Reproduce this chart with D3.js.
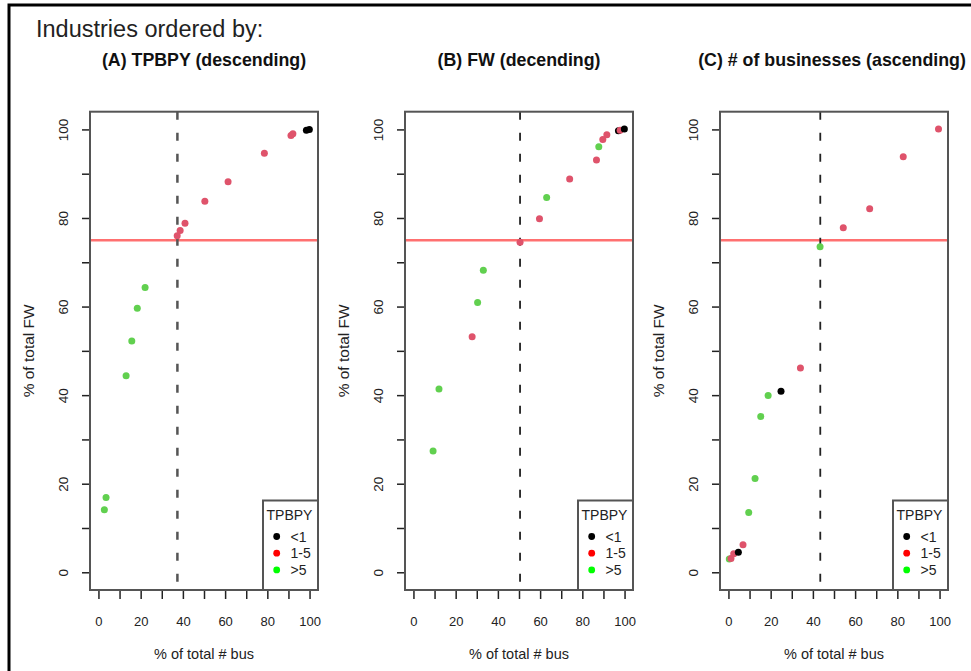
<!DOCTYPE html>
<html>
<head>
<meta charset="utf-8">
<script src="https://cdn.jsdelivr.net/npm/d3@7"></script>
<style>
  body { margin: 0; background: #fff; }
  svg { display: block; font-family: "Liberation Sans", Arial, sans-serif; }
</style>
</head>
<body>
<script>
/* global d3 */

// Cumulative % of total # businesses (x) and % of total FW (y), one point per industry,
// listed in plotting order. Group is the TPBPY class.
const xA = [2.8, 3.6, 13.1, 15.8, 18.4, 22.1, 37.3, 38.7, 41.0, 50.4, 61.4, 78.6, 91.2, 92.1, 98.5, 99.9];
const yA = [14.1, 16.9, 44.4, 52.2, 59.6, 64.3, 76.0, 77.2, 78.8, 83.8, 88.2, 94.6, 98.6, 99.0, 99.8, 100];
const gA = ['>5', '>5', '>5', '>5', '>5', '>5', '1-5', '1-5', '1-5', '1-5', '1-5', '1-5', '1-5', '1-5', '<1', '<1'];

const xB = [9.3, 12.1, 27.8, 30.4, 33.1, 50.5, 59.7, 63.1, 74.0, 86.7, 87.8, 89.7, 91.6, 97.1, 97.9, 99.9];
const yB = [27.4, 41.4, 53.2, 60.9, 68.2, 74.5, 79.8, 84.6, 88.8, 93.1, 96.1, 97.7, 98.8, 99.7, 99.8, 100.1];
const gB = ['>5', '>5', '1-5', '>5', '>5', '1-5', '1-5', '>5', '1-5', '1-5', '>5', '1-5', '1-5', '<1', '1-5', '<1'];

const xC = [0.4, 1.2, 2.5, 4.7, 6.9, 9.6, 12.6, 15.3, 18.8, 24.9, 34.1, 43.4, 54.4, 66.9, 82.8, 99.5];
const yC = [3.0, 3.1, 4.2, 4.5, 6.2, 13.5, 21.2, 35.2, 39.9, 40.9, 46.1, 73.5, 77.8, 82.1, 93.8, 100.1];
const gC = ['>5', '1-5', '1-5', '<1', '1-5', '>5', '>5', '>5', '>5', '<1', '1-5', '>5', '1-5', '1-5', '1-5', '1-5'];

const titles = ['(A) TPBPY (descending)', '(B) FW (decending)', '(C) # of businesses (ascending)'];
const cutoffs = [37.4, 50.5, 43.5];   // dashed vertical line, % of total # bus
const fwLine = 75;                     // horizontal line, % of total FW

const groups = ['<1', '1-5', '>5'];
const pointColors = ['#000000', '#DF536B', '#61D04F'];
const legendColors = ['#000000', '#FF0000', '#00FF00'];

const xTicks = d3.range(0, 101, 10);
const yTicks = d3.range(0, 101, 10);

const width = 971;
const height = 671;

const panels = [
  { x: xA, y: yA, g: gA },
  { x: xB, y: yB, g: gB },
  { x: xC, y: yC, g: gC },
];

const svg = d3.select('body').append('svg')
  .attr('width', width)
  .attr('height', height);

// outer frame of the original figure (only its top and left edges are in view)
svg.append('rect')
  .attr('x', 9).attr('y', 5)
  .attr('width', 1000).attr('height', 700)
  .attr('fill', 'none')
  .attr('stroke', '#000')
  .attr('stroke-width', 3);

svg.append('text')
  .attr('x', 36).attr('y', 37)
  .attr('font-size', 23.5)
  .attr('fill', '#222')
  .text('Industries ordered by:');

const box = { left: 90, top: 111.7, w: 228, h: 478.3, step: 315 };
const color = d3.scaleOrdinal().domain(groups).range(pointColors);

panels.forEach((p, i) => {
  const g = svg.append('g')
    .attr('transform', `translate(${box.left + i * box.step},${box.top})`);

  // R pads the 0-100 data range by 4% on each side
  const x = d3.scaleLinear().domain([-4, 104]).range([0, box.w]);
  const y = d3.scaleLinear().domain([-4, 104]).range([box.h, 0]);

  g.append('text')
    .attr('x', box.w / 2 + (i === 2 ? -2 : 0)).attr('y', 66 - box.top)
    .attr('text-anchor', 'middle')
    .attr('font-size', 17.8)
    .attr('font-weight', 'bold')
    .attr('fill', '#111')
    .text(titles[i]);

  // y axis: ticks every 10, labels every 20
  const yAxis = d3.axisLeft(y)
    .tickValues(yTicks)
    .tickSize(8)
    .tickFormat(d => (d % 20 === 0 ? d : ''));
  g.append('g')
    .call(yAxis)
    .call(s => s.select('.domain').remove())
    .call(s => s.selectAll('.tick line').attr('stroke', '#222').attr('stroke-width', 1.5))
    .call(s => s.selectAll('.tick text')
      .attr('font-size', 13.5)
      .attr('font-family', '"Liberation Sans", Arial, sans-serif')
      .attr('fill', '#222')
      .attr('x', null).attr('dy', null)
      .attr('text-anchor', 'middle')
      .attr('transform', 'translate(-22.5,0) rotate(-90)'));

  // x axis below the box
  const xAxis = d3.axisBottom(x)
    .tickValues(xTicks)
    .tickSize(9)
    .tickPadding(18)
    .tickFormat(d => (d % 20 === 0 ? d : ''));
  g.append('g')
    .attr('transform', `translate(0,${box.h})`)
    .call(xAxis)
    .call(s => s.select('.domain').remove())
    .call(s => s.selectAll('.tick line').attr('stroke', '#222').attr('stroke-width', 1.5))
    .call(s => s.selectAll('.tick text')
      .attr('font-size', 13)
      .attr('font-family', '"Liberation Sans", Arial, sans-serif')
      .attr('fill', '#222'));

  g.append('line')
    .attr('x1', x(0)).attr('x2', x(100))
    .attr('y1', box.h).attr('y2', box.h)
    .attr('stroke', '#222').attr('stroke-width', 1);

  g.append('text')
    .attr('x', box.w / 2).attr('y', 659 - box.top)
    .attr('text-anchor', 'middle')
    .attr('font-size', 14.5)
    .attr('fill', '#222')
    .text('% of total # bus');

  g.append('text')
    .attr('transform', `translate(-56.5,${box.h / 2}) rotate(-90)`)
    .attr('text-anchor', 'middle')
    .attr('font-size', 15.5)
    .attr('fill', '#222')
    .text('% of total FW');

  // reference lines
  g.append('line')
    .attr('x1', 0).attr('x2', box.w)
    .attr('y1', y(fwLine)).attr('y2', y(fwLine))
    .attr('stroke', '#FF7070')
    .attr('stroke-width', 2.5);

  g.append('line')
    .attr('x1', x(cutoffs[i])).attr('x2', x(cutoffs[i]))
    .attr('y1', 0).attr('y2', box.h)
    .attr('stroke', i === 0 ? '#555' : '#222')
    .attr('stroke-width', i === 0 ? 2.5 : 1.8)
    .attr('stroke-dasharray', '8,13');

  // points
  g.append('g')
    .selectAll('circle')
    .data(p.x.map((v, k) => ({ x: v, y: p.y[k], g: p.g[k] })))
    .join('circle')
      .attr('cx', d => x(d.x))
      .attr('cy', d => y(d.y))
      .attr('r', 3.5)
      .attr('fill', d => color(d.g));

  // legend in the lower right corner
  const lw = 55;
  const lh = 89.5;
  const legend = g.append('g')
    .attr('transform', `translate(${box.w - lw},${box.h - lh})`);
  legend.append('rect')
    .attr('width', lw).attr('height', lh)
    .attr('fill', '#fff')
    .attr('stroke', '#555')
    .attr('stroke-width', 2);
  legend.append('text')
    .attr('x', 3.5).attr('y', 19.5)
    .attr('font-size', 14)
    .attr('fill', '#222')
    .text('TPBPY');
  const item = legend.selectAll('g.item')
    .data(groups)
    .join('g')
      .attr('class', 'item')
      .attr('transform', (d, k) => `translate(0,${36 + k * 16.7})`);
  item.append('circle')
    .attr('cx', 13.7)
    .attr('r', 3.4)
    .attr('fill', (d, k) => legendColors[k]);
  item.append('text')
    .attr('x', 27.5).attr('y', 5)
    .attr('font-size', 14)
    .attr('fill', '#222')
    .text(d => d);

  // plot box
  g.append('rect')
    .attr('width', box.w).attr('height', box.h)
    .attr('fill', 'none')
    .attr('stroke', '#555')
    .attr('stroke-width', 2);
});
</script>
</body>
</html>
